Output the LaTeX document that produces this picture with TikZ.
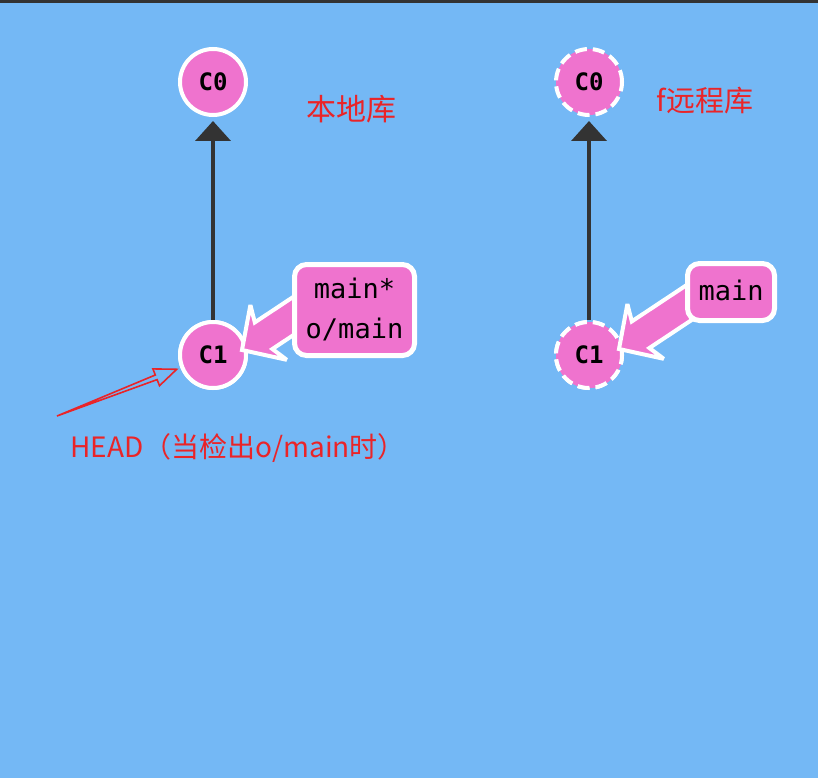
\documentclass[tikz,border=0pt]{standalone}
\usepackage{fontspec}
\setmonofont{DejaVu Sans Mono}
\newfontfamily\cjk{Noto Sans CJK SC}
\usetikzlibrary{arrows.meta}
\definecolor{bg}{HTML}{74B8F5}
\definecolor{pinkc}{HTML}{EF73CE}
\definecolor{darkc}{HTML}{333333}
\definecolor{redc}{RGB}{234,36,40}
\tikzset{
  commit/.style={circle, minimum size=66pt, inner sep=0pt, fill=pinkc, draw=white, line width=4pt,
    font=\ttfamily\bfseries\fontsize{24}{24}\selectfont, text=black},
  remotecommit/.style={commit, dashed, dash pattern=on 12pt off 6pt},
  parentlink/.style={draw=darkc, line width=4pt, -{Triangle[width=35pt,length=20pt]}, shorten >=4pt},
  branchbox/.style={rectangle, rounded corners=12pt, fill=pinkc, draw=white, line width=5pt, inner sep=0pt},
  branchtext/.style={anchor=base, font=\ttfamily\fontsize{27}{27}\selectfont, text=black, inner sep=0pt},
  branchptr/.style={fill=pinkc, draw=white, line width=4pt, line join=miter, miter limit=2.5},
  note/.style={text=redc, inner sep=0pt},
}
\begin{document}
\begin{tikzpicture}[x=1pt,y=-1pt]
\useasboundingbox (0,0) rectangle (818,778);
\fill[bg] (0,0) rectangle (818,778);
\fill[darkc] (0,0) rectangle (818,3);

% left repository
\node[commit] (lc0) at (213,82) {C0};
\node[commit] (lc1) at (213,355) {C1};
\draw[parentlink] (lc1.north) -- (lc0.south);
\node[commit] at (lc1) {C1};

\draw[branchptr] (242,350) -- (250.4,305) -- (254.8,322.4) -- (324.5,276.2) -- (342.1,302.8) -- (272.4,349) -- (286.7,359.8) -- cycle;
\node[branchbox, minimum width=120pt, minimum height=91pt] (lbox) at (354.5,310) {};
\node[branchtext] (lt1) at (354.5,298) {main*};
\node[branchtext] (lt2) at (354.5,338) {o/main};

\node[note, font=\cjk\fontsize{30}{30}\selectfont] (local) at (351,109) {本地库};

% HEAD arrow
\coordinate (headtail) at (57,416);
\draw[redc, line width=1.6pt, line join=miter] (headtail) -- (155.3,375) -- (152.9,368.9) -- (176.7,369.3) -- (159.5,385.7) -- (157.1,379.6) -- cycle;
\node[note, font=\cjk\fontsize{28}{28}\selectfont] (headlbl) at (238,448) {HEAD（当检出o/main时）};

% remote repository
\node[remotecommit] (rc0) at (589,82) {C0};
\node[remotecommit] (rc1) at (589,355) {C1};
\draw[parentlink] (rc1.north) -- (rc0.south);
\node[remotecommit] at (rc1) {C1};

\draw[branchptr] (619,349) -- (627.4,304) -- (631.8,321.4) -- (701.5,275.2) -- (719.1,301.8) -- (649.4,348) -- (663.7,358.8) -- cycle;
\node[branchbox, minimum width=87pt, minimum height=57pt] (rbox) at (731,292) {};
\node[branchtext] (rt1) at (731,300) {main};

\node[note, font=\cjk\fontsize{29}{29}\selectfont] (remote) at (705,101) {f远程库};
\end{tikzpicture}
\end{document}
